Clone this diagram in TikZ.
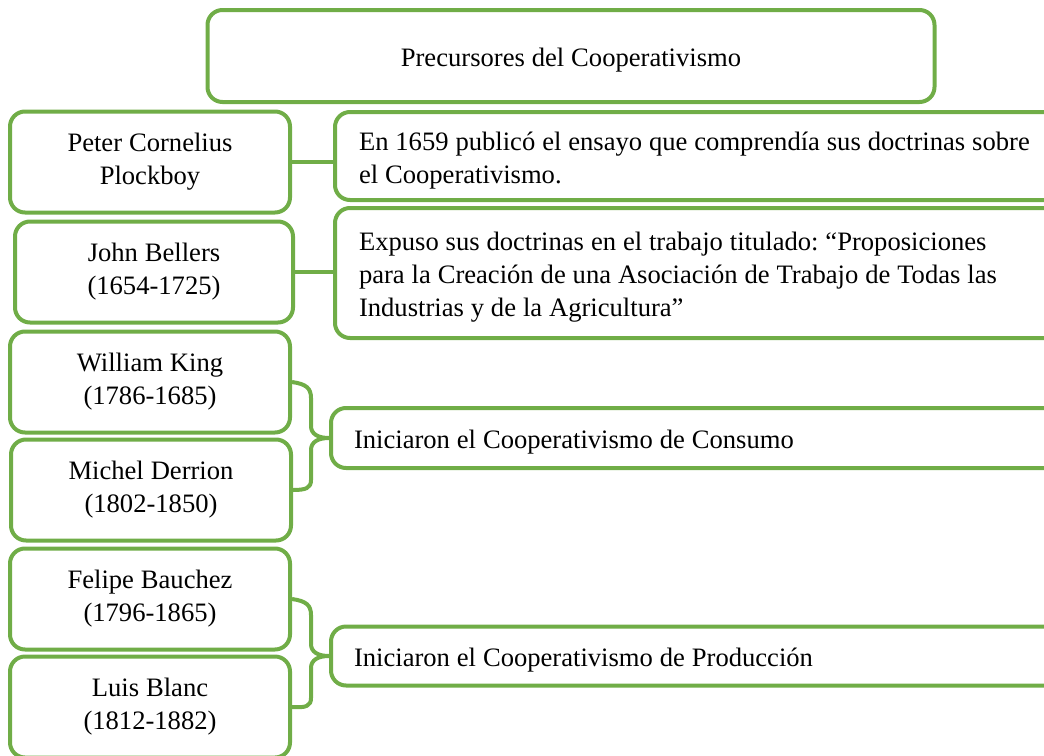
\documentclass[tikz,border=0pt]{standalone}
\usepackage{fontspec}
\setmainfont{Liberation Serif}
\definecolor{leaf}{RGB}{112,173,71}
\frenchspacing
\begin{document}
\begin{tikzpicture}[x=1pt,y=-1pt,
  every node/.style={font=\fontsize{26.6}{33}\selectfont,
    execute at begin node={\spaceskip=6.9pt plus 1pt minus 1pt\rule{0pt}{27pt}}},
  box/.style={draw=leaf,line width=4pt,rounded corners=15pt,fill=white},
  namebox/.style={box,minimum width=280pt,minimum height=101pt,align=center,inner sep=0pt},
  descbox/.style={box,anchor=west,text width=740pt,align=left,inner xsep=24pt,inner ysep=0pt},
  link/.style={draw=leaf,line width=4pt}]
\useasboundingbox (0,0) rectangle (1044,755);
\clip (0,0) rectangle (1044,755);

% heading
\node[box,minimum width=727pt,minimum height=92pt] (title) at (571,56) {Precursores del Cooperativismo};

% people
\node[namebox] (peter) at (150,162) {Peter Cornelius\\Plockboy};
\node[namebox,minimum width=278pt] (john) at (154,272) {John Bellers\\(1654-1725)};
\node[namebox] (will) at (150,382) {William King\\(1786-1685)};
\node[namebox] (mich) at (151,490) {Michel Derrion\\(1802-1850)};
\node[namebox] (feli) at (150,599) {Felipe Bauchez\\(1796-1865)};
\node[namebox] (luis) at (150,707) {Luis Blanc\\(1812-1882)};

% contributions
\node[descbox,minimum height=88pt] (d1) at (333,156)
  {En 1659 publicó el ensayo que comprendía sus doctrinas sobre\\el Cooperativismo.};
\node[descbox,minimum height=130pt] (d2) at (333,273)
  {Expuso sus doctrinas en el trabajo titulado: “Proposiciones\\para la Creación de una Asociación de Trabajo de Todas las\\Industrias y de la Agricultura”};
\node[descbox,minimum height=60pt,inner xsep=23pt] (cons) at (329,438)
  {Iniciaron el Cooperativismo de Consumo};
\node[descbox,minimum height=59pt,inner xsep=23pt] (prod) at (329,656)
  {Iniciaron el Cooperativismo de Producción};

% single links
\draw[link] (peter.east) -- (peter.east -| d1.west);
\draw[link] (john.east) -- (john.east -| d2.west);

% braces
\draw[link,line join=round] (will.east) .. controls (306,384) and (311,388) .. (311,398) -- (311,426)
  .. controls (311,434) and (318,438) .. (cons.west);
\draw[link,line join=round] (cons.west) .. controls (318,438) and (311,442) .. (311,450) -- (311,480)
  .. controls (311,488) and (306,490) .. (mich.east);
\draw[link,line join=round] (feli.east) .. controls (306,601) and (311,605) .. (311,615) -- (311,644)
  .. controls (311,652) and (318,656) .. (prod.west);
\draw[link,line join=round] (prod.west) .. controls (318,656) and (311,660) .. (311,668) -- (311,698)
  .. controls (311,706) and (306,708) .. (luis.east);
\end{tikzpicture}
\end{document}
